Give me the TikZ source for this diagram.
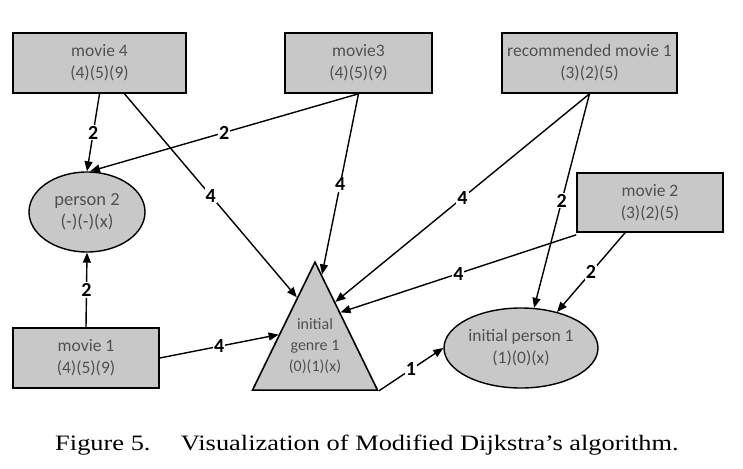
\documentclass[tikz,border=0pt]{standalone}
\usepackage{fontspec}
\setmainfont{Liberation Serif}
\newfontfamily\nodefont{Carlito}
\usetikzlibrary{shapes.geometric,arrows.meta,calc}
\definecolor{boxgray}{HTML}{C8C8C8}
\definecolor{txtgray}{HTML}{505050}
\begin{document}
\begin{tikzpicture}[x=1pt,y=-1pt,
  box/.style={draw=black,line width=1.6pt,fill=boxgray,rectangle,inner sep=0,
    font=\nodefont\fontsize{17.5}{22}\selectfont,text=txtgray,align=center},
  oval/.style={draw=black,line width=1.4pt,fill=boxgray,ellipse,inner sep=0,
    font=\nodefont\fontsize{17.5}{22}\selectfont,text=txtgray,align=center},
  edge/.style={line width=1.4pt,-{Triangle[length=10pt,width=8pt]}},
  wt/.style={fill=white,inner sep=1pt,font=\nodefont\bfseries\fontsize{20}{20}\selectfont}]
\useasboundingbox (0,0) rectangle (743,468);
% nodes
\node[box,minimum width=173,minimum height=60] (m4) at (99.5,63) {movie 4\\(4)(5)(9)};
\node[box,minimum width=147,minimum height=60] (m3) at (358.5,63) {movie3\\(4)(5)(9)};
\node[box,minimum width=175,minimum height=60] (r1) at (589.5,63) {recommended movie 1\\(3)(2)(5)};
\node[box,minimum width=146,minimum height=59] (m2) at (650,202.5) {movie 2\\(3)(2)(5)};
\node[box,minimum width=146,minimum height=60] (m1) at (86,358) {movie 1\\(4)(5)(9)};
\node[oval,minimum width=116,minimum height=80,font=\nodefont\fontsize{18.5}{22}\selectfont] (p2) at (87,212) {person 2\\(-)(-)(x)};
\node[oval,minimum width=154,minimum height=80] (p1) at (521,348) {initial person 1\\(1)(0)(x)};
\node[isosceles triangle,shape border rotate=90,isosceles triangle stretches,
  minimum width=125,minimum height=128,inner sep=0,anchor=apex,
  draw=black,line width=1.6pt,fill=boxgray] (tri) at (315,260) {};
\node[font=\nodefont\fontsize{16}{21}\selectfont,text=txtgray,align=center] (tritext) at (315,346) {initial\\genre 1\\(0)(1)(x)};
% targets on the triangle
\coordinate (tL1) at ($(tri.apex)!0.285!(tri.left corner)$);
\coordinate (tL2) at ($(tri.apex)!0.57!(tri.left corner)$);
\coordinate (tR1) at ($(tri.apex)!0.11!(tri.right corner)$);
\coordinate (tR2) at ($(tri.apex)!0.32!(tri.right corner)$);
\coordinate (tR3) at ($(tri.apex)!0.40!(tri.right corner)$);
% edges
\draw[edge] (m4.south) -- node[wt]{2} (p2.north);
\draw[edge] (m3.south) -- node[wt]{2} ([xshift=3]p2.north);
\draw[edge] ([xshift=25]m4.south) -- node[wt]{4} (tL1);
\draw[edge] (m3.south) -- node[wt]{4} (tR1);
\draw[edge] (r1.south) -- node[wt]{4} (tR2);
\draw[edge] (r1.south) -- node[wt]{2} (p1.72);
\draw[edge] ([yshift=-2]m2.south west) -- node[wt]{4} (tR3);
\draw[edge] ([xshift=-25]m2.south) -- node[wt]{2} (p1.45);
\draw[edge] (m1.north) -- node[wt]{2} (p2.south);
\draw[edge] (m1.east) -- node[wt]{4} (tL2);
\draw[edge] (tri.right corner) -- node[wt]{1} (p1.west);
% caption
\node[font=\fontsize{22}{24}\selectfont,anchor=base west,inner sep=0,xscale=1.2] (cap) at (55,450)
  {Figure 5.\hspace{1.15em}Visualization of Modified Dijkstra’s algorithm.};
\end{tikzpicture}
\end{document}
